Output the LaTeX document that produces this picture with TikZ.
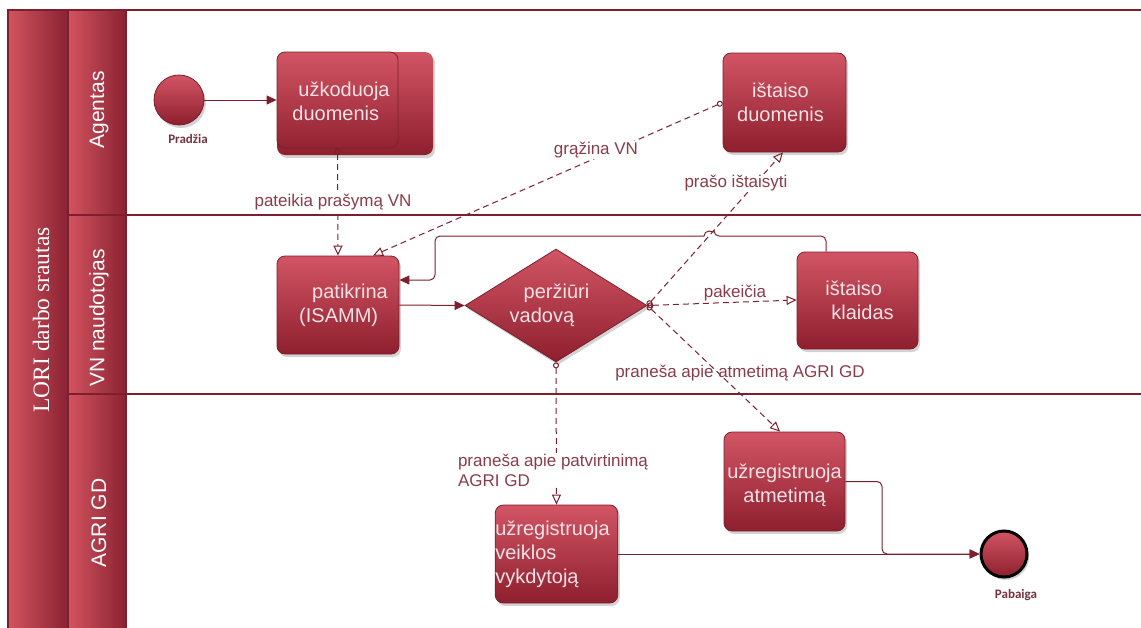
\documentclass[tikz,border=0pt]{standalone}
\usepackage{fontspec}
\setmainfont{Liberation Sans}
\newfontfamily\serifF{Liberation Serif}
\newfontfamily\calF{Carlito}
\usetikzlibrary{arrows.meta,shapes.geometric,shadows}
\definecolor{hdrL}{HTML}{D2545F}
\definecolor{hdrR}{HTML}{8A2232}
\definecolor{boxT}{HTML}{D25564}
\definecolor{boxB}{HTML}{8E1F2E}
\definecolor{lineC}{HTML}{7D1F2C}
\definecolor{lblC}{HTML}{8A3C4A}
\definecolor{txtC}{HTML}{F3E2E5}
\tikzset{
  shadowed/.style={drop shadow={shadow xshift=2pt,shadow yshift=-3pt,opacity=.35}},
  task/.style={rectangle, rounded corners=8pt, draw=lineC, line width=0.8pt,
    top color=boxT, bottom color=boxB, shadowed, text=txtC,
    font=\fontsize{20}{24}\selectfont, align=center, inner sep=0pt},
  outlinebox/.style={rectangle, rounded corners=8pt, draw=lineC, line width=0.8pt, inner sep=0pt},
  gateway/.style={diamond, aspect=1.6, draw=lineC, line width=0.8pt,
    top color=boxT, bottom color=boxB, shadowed, text=txtC,
    font=\fontsize{20}{24}\selectfont, align=left, inner sep=0pt},
  msg/.style={draw=lineC, line width=1pt, dash pattern=on 6pt off 4pt,
    {Circle[open,length=6pt,width=6pt]}-{Triangle[open,length=10pt,width=9pt]}},
  seq/.style={draw=lineC, line width=1pt, -{Triangle[length=10pt,width=9pt]}},
  elbl/.style={text=lblC, font=\fontsize{17}{20}\selectfont, inner sep=1pt},
  evlbl/.style={text=lblC!85!black, font=\calF\bfseries\fontsize{13}{15}\selectfont, inner sep=0pt},
  hdr/.style={left color=hdrL, right color=hdrR, draw=lineC, line width=1.2pt},
  hdrtxt/.style={rotate=90, text=white, font=\fontsize{21}{24}\selectfont, inner sep=0pt},
  laneline/.style={draw=lineC, line width=1.3pt}
}
\begin{document}
\begin{tikzpicture}[x=1pt,y=-1pt]
\useasboundingbox (0,0) rectangle (1141,627);
\clip (0,0) rectangle (1141,627);

% pool and lanes
\path[hdr] (8,10) rectangle (68,640);
\path[hdr] (68,10) rectangle (126,215);
\path[hdr] (68,215) rectangle (126,394);
\path[hdr] (68,394) rectangle (126,640);
\draw[laneline] (8,10) -- (1141,10);
\draw[laneline] (126,215) -- (1141,215);
\draw[laneline] (126,394) -- (1141,394);

\node[hdrtxt, font=\serifF\fontsize{23.5}{26}\selectfont] (pool) at (41,320) {LORI darbo srautas};
\node[hdrtxt] (laneA) at (99,110) {Agentas};
\node[hdrtxt] (laneV) at (99,318) {VN naudotojas};
\node[hdrtxt] (laneG) at (99,523) {AGRI GD};

% nodes
\node[circle, minimum size=50pt, inner sep=0pt, draw=lineC, line width=0.8pt,
  top color=boxT, bottom color=boxB, shadowed] (start) at (179,100) {};
\node[evlbl] (startL) at (188,139) {Pradžia};

\node[task, draw=none, minimum width=156pt, minimum height=103pt] (uzkbg) at (355,103.5) {};
\node[outlinebox, minimum width=121pt, minimum height=96pt] (uzk) at (337.5,100) {};
\node[text=txtC, font=\fontsize{20}{24}\selectfont, align=left, inner sep=0pt] (uzkT) at (341,101) {\hspace*{6pt}užkoduoja\\duomenis};

\node[task, minimum width=123pt, minimum height=99pt] (isd) at (784.5,102.5) {ištaiso\hspace*{8pt}\\duomenis\hspace*{8pt}};
\node[task, minimum width=122pt, minimum height=98pt, align=left] (pat) at (338,305) {\hspace*{24pt}patikrina\\\hspace*{11pt}(ISAMM)};
\node[gateway, minimum width=182pt, minimum height=113pt] (diam) at (556,305.5) {\hspace*{14pt}peržiūri\hspace*{13pt}\\vadovą};
\node[task, minimum width=121pt, minimum height=97pt, align=left] (isk) at (857.5,300.5) {\hspace*{4pt}ištaiso\\\hspace*{10pt}klaidas};
\node[task, minimum width=121pt, minimum height=99pt] (ura) at (784.5,481.5) {\\[-2pt]užregistruoja\\atmetimą};
\node[task, minimum width=121pt, minimum height=98pt, align=left] (urv) at (556.5,554) {užregistruoja\hspace*{8pt}\\veiklos\\vykdytoją};

\node[circle, minimum size=46pt, inner sep=0pt, draw=black, line width=3pt,
  top color=boxT, bottom color=boxB, shadowed] (end) at (1004,554) {};
\node[evlbl] (endL) at (1016,595) {Pabaiga};

% sequence flows
\draw[seq] (start.east) -- (uzk.west);
\draw[seq] (pat.east) -- (diam.west);
\draw[seq, rounded corners=5pt] ([xshift=-31.5pt]isk.north) -- (826,236) -- (714,236)
  [sharp corners] arc[start angle=0,end angle=-180,radius=5]
  [rounded corners=5pt] -- (435,236) -- (435,280) -- ([yshift=25pt]pat.east);
\draw[seq, rounded corners=5pt] (ura.east) -- (882,481.5) -- (882,554) -- (end.west);
\draw[seq] (urv.east) -- (end.west);

% message flows
\draw[msg] (uzk.south) -- (pat.north);
\draw[msg] (isd.west) -- ([xshift=35pt]pat.north);
\draw[msg] (diam.east) -- ([xshift=-1.5pt]isd.south);
\draw[msg] (diam.east) -- ([yshift=0.5pt]isk.west);
\draw[msg] (diam.east) -- ([xshift=-4.5pt]ura.north);
\draw[msg] (diam.south) -- (urv.north);

% flow labels
\node[elbl, fill=white] (l1) at (333,202) {pateikia prašymą VN};
\node[elbl, fill=white] (l2) at (596,150) {grąžina VN};
\node[elbl, fill=white] (l3) at (736,183) {prašo ištaisyti};
\node[elbl] (l4) at (735,293) {pakeičia};
\node[elbl] (l5) at (740,373) {praneša apie atmetimą AGRI GD};
\node[elbl, fill=white, align=left, font=\fontsize{17}{20}\selectfont] (l6) at (553,470) {praneša apie patvirtinimą\\AGRI GD};
\end{tikzpicture}
\end{document}
